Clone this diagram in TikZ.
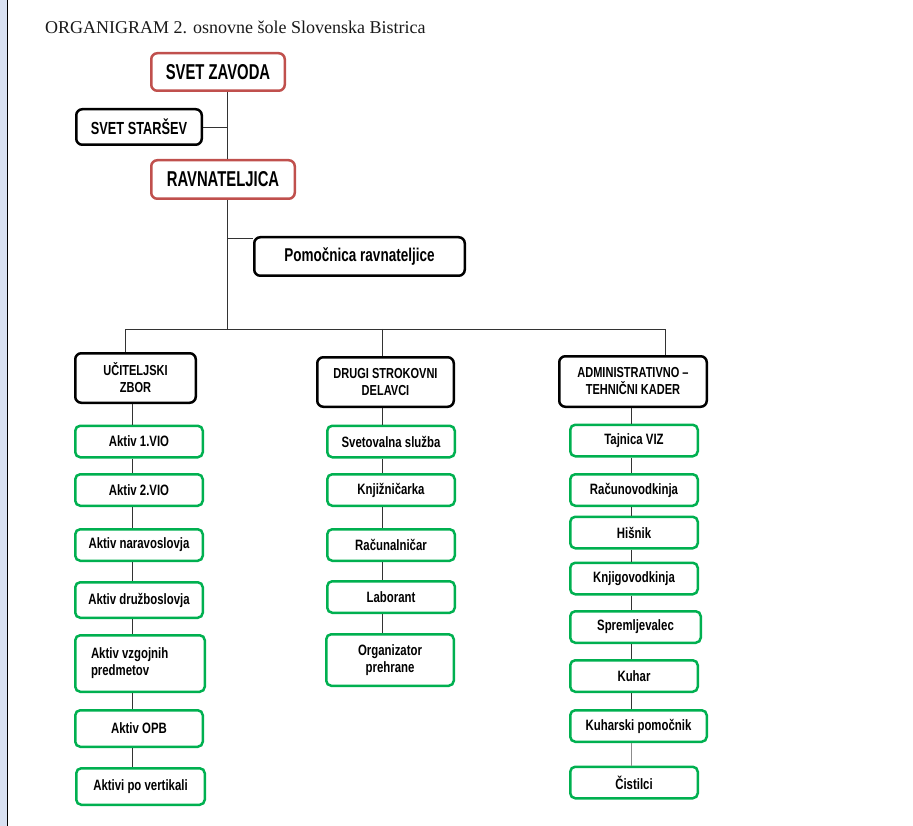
\documentclass[tikz,border=0pt]{standalone}
\usepackage{fontspec}
\setmainfont{Liberation Serif}
\newfontfamily\orgfont[FakeStretch=0.76]{Liberation Sans}
\newfontfamily\ozkifont[FakeStretch=0.73]{Liberation Sans}
\newfontfamily\vodfont[FakeStretch=0.69]{Liberation Sans}
\usepackage{xcolor}
\definecolor{rougeorg}{RGB}{192,80,77}
\definecolor{vertorg}{RGB}{0,176,80}
\definecolor{bleupage}{RGB}{217,225,242}
\newcommand{\taille}[1]{\fontsize{#1}{17}\selectfont}

\begin{document}
\begin{tikzpicture}[x=1pt,y=-1pt]

	\tikzstyle{vodstvo}=[rectangle, rounded corners=6pt, draw=rougeorg, line width=2.5pt, inner sep=0pt, align=center, font=\vodfont\bfseries\taille{21.5}]
	\tikzstyle{enota}=[rectangle, rounded corners=6pt, draw=black, line width=2.5pt, inner sep=0pt, align=center, font=\orgfont\bfseries\taille{14.5}]
	\tikzstyle{clan}=[rectangle, rounded corners=5pt, draw=vertorg, line width=2.5pt, inner sep=0pt, align=center, minimum width=127.5, minimum height=31.5, font=\orgfont\bfseries\taille{15}]
	\tikzstyle{lien}=[draw=black!80, line width=0.8pt]
	\tikzstyle{lien2}=[draw=black!45, line width=1pt]

	\useasboundingbox (0,0) rectangle (913,826);
	\fill[bleupage] (0,0) rectangle (7,826);
	\draw[line width=1.7pt] (7.5,0) -- (7.5,826);

	\node[anchor=base west, inner sep=0pt, text=black!90, font=\fontsize{18}{20}\selectfont] (titre) at (45,34) {ORGANIGRAM 2. osnovne šole Slovenska Bistrica};

	% vodstvo
	\node[vodstvo, minimum width=133.5, minimum height=37.5] (sz) at (218,72) {SVET ZAVODA};
	\node[enota, minimum width=125.5, minimum height=35.5, font=\ozkifont\bfseries\taille{17.5}] (ss) at (139,127) {SVET STARŠEV};
	\node[vodstvo, minimum width=143.5, minimum height=38.5] (rv) at (223,179.5) {RAVNATELJICA};
	\node[enota, minimum width=210.5, minimum height=38.5, font=\ozkifont\bfseries\taille{18.5}] (pr) at (359.5,256.5) {Pomočnica ravnateljice};

	% tri skupine
	\node[enota, minimum width=120.5, minimum height=49.5] (uz) at (135.5,378) {UČITELJSKI\\ZBOR};
	\node[enota, minimum width=136.5, minimum height=49.5] (ds) at (385.5,382) {DRUGI STROKOVNI\\DELAVCI};
	\node[enota, minimum width=147.5, minimum height=50.5] (atk) at (633,381.5) {ADMINISTRATIVNO –\\TEHNIČNI KADER};

	\node[clan] (a1) at (139,441.5) {Aktiv 1.VIO};
	\node[clan] (a2) at (139,490) {Aktiv 2.VIO};
	\node[clan] (a3) at (139,545) {Aktiv naravoslovja};
	\node[clan, minimum height=35.5] (a4) at (139,600) {Aktiv družboslovja};
	\node[clan, minimum width=129.5, minimum height=56.5, text width=98, align=flush left] (a5) at (140,663.5) {Aktiv vzgojnih\\predmetov};
	\node[clan, minimum height=36.5] (a6) at (139,728.5) {Aktiv OPB};
	\node[clan, minimum width=128.5, minimum height=36.5] (a7) at (140.5,786.5) {Aktivi po vertikali};

	\node[clan] (d1) at (391,441.5) {Svetovalna služba};
	\node[clan] (d2) at (391,490) {Knjižničarka};
	\node[clan] (d3) at (391,545) {Računalničar};
	\node[clan] (d4) at (391,597) {Laborant};
	\node[clan, minimum height=51.5] (d5) at (390,660) {Organizator\\prehrane};

	\node[clan] (t1) at (634,440.5) {Tajnica VIZ};
	\node[clan] (t2) at (634,490) {Računovodkinja};
	\node[clan] (t3) at (634,532.5) {Hišnik};
	\node[clan] (t4) at (634,578.5) {Knjigovodkinja};
	\node[clan, minimum width=130.5] (t5) at (635.5,627) {Spremljevalec};
	\node[clan] (t6) at (634,676) {Kuhar};
	\node[clan, minimum width=136.5] (t7) at (638.5,726) {Kuharski pomočnik};
	\node[clan] (t8) at (634,782.5) {Čistilci};

	% povezave
	\coordinate (tr) at (227,0);
	\coordinate (p) at (227,238);
	\coordinate (bus) at (227,329);
	\coordinate (b1) at (125,329);
	\coordinate (b2) at (382,329);
	\coordinate (b3) at (665,329);
	\coordinate (c1) at (132,0);
	\coordinate (c2) at (382,0);
	\coordinate (c3) at (631,0);

	\draw[lien] (sz.south -| tr) -- (rv.north -| tr);
	\draw[lien] (ss.east) -- (ss.east -| tr);
	\draw[lien] (rv.south -| tr) -- (bus);
	\draw[lien] (p) -- (p -| pr.west);
	\draw[lien] (uz.north -| b1) -- (b1) -- (b3) -- (atk.north -| b3);
	\draw[lien] (b2) -- (ds.north -| b2);

	\draw[lien] (uz.south -| c1) -- (a1.north -| c1);
	\draw[lien] (a1.south -| c1) -- (a2.north -| c1);
	\draw[lien] (a2.south -| c1) -- (a3.north -| c1);
	\draw[lien] (a3.south -| c1) -- (a4.north -| c1);
	\draw[lien] (a4.south -| c1) -- (a5.north -| c1);
	\draw[lien] (a5.south -| c1) -- (a6.north -| c1);
	\draw[lien] (a6.south -| c1) -- (a7.north -| c1);

	\draw[lien] (ds.south -| c2) -- (d1.north -| c2);
	\draw[lien] (d1.south -| c2) -- (d2.north -| c2);
	\draw[lien] (d2.south -| c2) -- (d3.north -| c2);
	\draw[lien] (d3.south -| c2) -- (d4.north -| c2);
	\draw[lien] (d4.south -| c2) -- (d5.north -| c2);

	\draw[lien] (atk.south -| c3) -- (t1.north -| c3);
	\draw[lien] (t1.south -| c3) -- (t2.north -| c3);
	\draw[lien] (t2.south -| c3) -- (t3.north -| c3);
	\draw[lien] (t3.south -| c3) -- (t4.north -| c3);
	\draw[lien] (t4.south -| c3) -- (t5.north -| c3);
	\draw[lien] (t5.south -| c3) -- (t6.north -| c3);
	\draw[lien] (t6.south -| c3) -- (t7.north -| c3);
	\draw[lien2] (t7.south -| c3) -- (t8.north -| c3);

\end{tikzpicture}
\end{document}
